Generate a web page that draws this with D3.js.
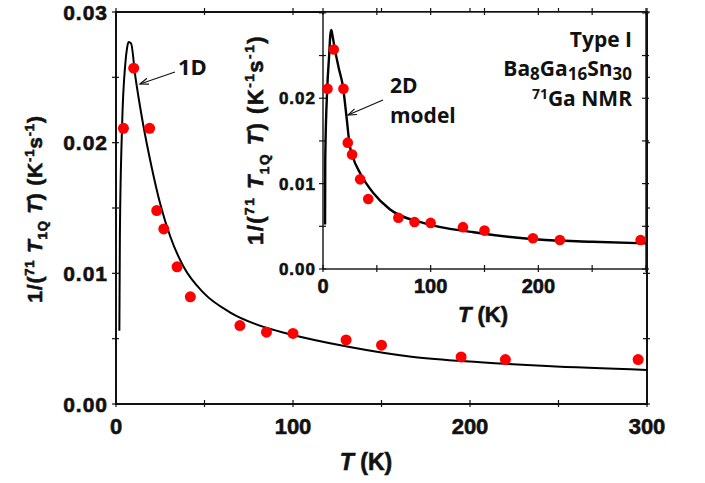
<!DOCTYPE html>
<html>
<head>
<meta charset="utf-8">
<script src="https://cdn.jsdelivr.net/npm/d3@7"></script>
<style>
  body { margin: 0; background: #fff; }
  svg { display: block; }
  .tick-label { font-family: "Liberation Sans", Arial, sans-serif; font-weight: bold; fill: #111; stroke: #111; stroke-width: 0.6px; }
  .note { font-family: "Open Sans", sans-serif; font-weight: bold; fill: #111; }
</style>
</head>
<body>
<svg id="chart" width="705" height="483"></svg>
<script>
// measured points, 71Ga NMR
const tempK = [4.2, 10, 19, 23, 27, 34.5, 42, 70, 85, 100, 130, 150, 195, 220, 295];
const rate = [0.0211, 0.0257, 0.0211, 0.0148, 0.0134, 0.0105, 0.0082, 0.0060, 0.0055, 0.0054, 0.0049, 0.0045, 0.0036, 0.0034, 0.0034];

// 1D model curve (main panel)
const t1D = [1.9, 2.2, 3.4, 5.3, 6.2, 7.1, 8.5, 10.9, 13.3, 15.6, 19.4, 25, 30.7, 38.2, 49.5, 64.6, 83.4, 96.6, 130.5, 168, 205.8, 243.5, 300];
const v1D = [0.0056, 0.0130, 0.0211, 0.0261, 0.0272, 0.0277, 0.0276, 0.0251, 0.0230, 0.0212, 0.0186, 0.0153, 0.0128, 0.0105, 0.0085, 0.0070, 0.0059, 0.0054, 0.0044, 0.0036, 0.0032, 0.0029, 0.0026];

// 2D model curve (inset)
const t2D = [1.9, 2.1, 4.0, 5.6, 6.8, 7.7, 9, 10.8, 14.5, 18.6, 21.6, 24.8, 28, 34.4, 46.7, 62, 93, 140, 200, 250, 300];
const v2D = [0.0052, 0.0130, 0.0213, 0.0248, 0.0274, 0.0280, 0.0272, 0.0259, 0.0236, 0.0213, 0.0181, 0.0145, 0.0130, 0.01125, 0.0089, 0.0070, 0.0054, 0.0043, 0.00345, 0.0032, 0.0030];

const xTicks = [0, 100, 200, 300];
const yTicks = [0, 0.01, 0.02, 0.03];
const insetXTicks = [0, 100, 200];
const insetYTicks = [0, 0.01, 0.02];

const svg = d3.select("#chart");

const x = d3.scaleLinear().domain([0, 300]).range([116, 647]);
const y = d3.scaleLinear().domain([0, 0.03]).range([404, 12]);

const xi = d3.scaleLinear().domain([0, 300]).range([323, 646]);
const yi = d3.scaleLinear().domain([0, 0.0301]).range([269, 12]);

const pts = tempK.map((t, i) => ({ t, v: rate[i] }));

function drawFrame(g, sx, sy, xMinor, yMinor, width) {
  const [x0, x1] = sx.range();
  const [y0, y1] = sy.range();
  g.append("rect")
    .attr("x", x0).attr("y", y1)
    .attr("width", x1 - x0).attr("height", y0 - y1)
    .attr("fill", "#fff")
    .attr("stroke", "#111")
    .attr("stroke-width", width);

  // ticks cross the frame on all four sides
  const xs = d3.range(0, 300.1, xMinor);
  const ys = d3.range(0, sy.domain()[1] + 1e-9, yMinor);
  xs.forEach((v) => {
    [y0, y1].forEach((yy) => {
      g.append("line")
        .attr("x1", sx(v)).attr("x2", sx(v))
        .attr("y1", yy - 4).attr("y2", yy + 3)
        .attr("stroke", "#111").attr("stroke-width", 1.2);
    });
  });
  ys.forEach((v) => {
    [x0, x1].forEach((xx) => {
      g.append("line")
        .attr("x1", xx - 4).attr("x2", xx + 3)
        .attr("y1", sy(v)).attr("y2", sy(v))
        .attr("stroke", "#111").attr("stroke-width", 1.2);
    });
  });
}

function drawCurve(g, sx, sy, ts, vs, w) {
  const line = d3.line()
    .x((d) => sx(d[0]))
    .y((d) => sy(d[1]))
    .curve(d3.curveMonotoneX);
  g.append("path")
    .attr("d", line(ts.map((t, i) => [t, vs[i]])))
    .attr("fill", "none")
    .attr("stroke", "#000")
    .attr("stroke-width", w);
}

function drawPoints(g, sx, sy, r) {
  g.selectAll("circle.pt")
    .data(pts)
    .join("circle")
    .attr("class", "pt")
    .attr("cx", (d) => sx(d.t))
    .attr("cy", (d) => sy(d.v))
    .attr("r", r)
    .attr("fill", "#ff0000");
}

function yLabel(g, cx, cy, size, spacing) {
  const t = g.append("text")
    .attr("class", "tick-label")
    .attr("transform", `translate(${cx},${cy}) rotate(-90)`)
    .attr("text-anchor", "middle")
    .style("font-size", size + "px")
    .style("letter-spacing", spacing + "px");
  const s = size * 0.62;
  t.append("tspan").text("1/(");
  t.append("tspan").attr("dy", -size * 0.4).style("font-size", s + "px").text("71");
  t.append("tspan").attr("dy", size * 0.4).text(" ");
  t.append("tspan").style("font-style", "italic").text("T");
  t.append("tspan").attr("dy", size * 0.25).style("font-size", s + "px").text("1Q");
  t.append("tspan").attr("dy", -size * 0.25).text(" ");
  t.append("tspan").style("font-style", "italic").text("T");
  t.append("tspan").text(") (K");
  t.append("tspan").attr("dy", -size * 0.4).style("font-size", s + "px").text("-1");
  t.append("tspan").attr("dy", size * 0.4).text("s");
  t.append("tspan").attr("dy", -size * 0.4).style("font-size", s + "px").text("-1");
  t.append("tspan").attr("dy", size * 0.4).text(")");
}

function xLabel(g, cx, cy, size) {
  const t = g.append("text")
    .attr("class", "tick-label")
    .attr("x", cx).attr("y", cy)
    .attr("text-anchor", "middle")
    .style("font-size", size + "px");
  t.append("tspan").style("font-style", "italic").text("T");
  t.append("tspan").text(" (K)");
}

function arrow(g, xa, ya, xb, yb) {
  g.append("line")
    .attr("x1", xa).attr("y1", ya).attr("x2", xb).attr("y2", yb)
    .attr("stroke", "#111").attr("stroke-width", 1.2);
  const ang = Math.atan2(ya - yb, xa - xb);
  const len = 9, spread = 0.35;
  const p = [
    [xb + len * Math.cos(ang - spread), yb + len * Math.sin(ang - spread)],
    [xb, yb],
    [xb + len * Math.cos(ang + spread), yb + len * Math.sin(ang + spread)]
  ];
  g.append("path")
    .attr("d", d3.line()(p))
    .attr("fill", "none")
    .attr("stroke", "#111")
    .attr("stroke-width", 1.2);
}

// ---- main panel
const main = svg.append("g");
drawFrame(main, x, y, 50, 0.005, 2);
drawCurve(main, x, y, t1D, v1D, 2);
drawPoints(main, x, y, 5.5);

main.selectAll("text.xt")
  .data(xTicks)
  .join("text")
  .attr("class", "tick-label xt")
  .attr("x", (d) => x(d))
  .attr("y", 434)
  .attr("text-anchor", "middle")
  .style("font-size", "22px")
  .text((d) => d);

main.selectAll("text.yt")
  .data(yTicks)
  .join("text")
  .attr("class", "tick-label yt")
  .attr("x", 108)
  .attr("y", (d) => y(d) + 7.5)
  .attr("text-anchor", "end")
  .style("font-size", "21px")
  .style("letter-spacing", "1px")
  .text((d) => d.toFixed(2));

yLabel(main, 42, 209, 21, 0.8);
xLabel(main, 366, 470, 23);

main.append("text").attr("class", "note")
  .attr("x", 178).attr("y", 75)
  .style("font-size", "22px").text("1D");
arrow(main, 175, 72, 140, 84);

// ---- inset
const inset = svg.append("g");
drawFrame(inset, xi, yi, 50, 0.005, 1.4);
drawCurve(inset, xi, yi, t2D, v2D, 2.4);
drawPoints(inset, xi, yi, 5.3);

inset.selectAll("text.xt")
  .data(insetXTicks)
  .join("text")
  .attr("class", "tick-label xt")
  .attr("x", (d) => xi(d))
  .attr("y", 293)
  .attr("text-anchor", "middle")
  .style("font-size", "20px")
  .text((d) => d);

inset.selectAll("text.yt")
  .data(insetYTicks)
  .join("text")
  .attr("class", "tick-label yt")
  .attr("x", 316)
  .attr("y", (d) => yi(d) + 6)
  .attr("text-anchor", "end")
  .style("font-size", "17px")
  .style("letter-spacing", "1px")
  .text((d) => d.toFixed(2));

yLabel(inset, 263, 140, 22, 1.5);
xLabel(inset, 483, 322, 22);

inset.append("text").attr("class", "note")
  .attr("x", 390).attr("y", 93)
  .style("font-size", "21px").text("2D");
inset.append("text").attr("class", "note")
  .attr("x", 390).attr("y", 123)
  .style("font-size", "21px").text("model");
arrow(inset, 383, 100, 348, 115);

// sample label
const lab = inset.append("g").attr("class", "note").style("font-size", "21px");
lab.append("text").attr("x", 632).attr("y", 47).attr("text-anchor", "end").text("Type I");
const f = lab.append("text").attr("x", 632).attr("y", 76).attr("text-anchor", "end");
f.append("tspan").text("Ba");
f.append("tspan").attr("dy", 4).style("font-size", "17px").text("8");
f.append("tspan").attr("dy", -4).text("Ga");
f.append("tspan").attr("dy", 4).style("font-size", "17px").text("16");
f.append("tspan").attr("dy", -4).text("Sn");
f.append("tspan").attr("dy", 4).style("font-size", "17px").text("30");
const n = lab.append("text").attr("x", 632).attr("y", 106).attr("text-anchor", "end");
n.append("tspan").attr("dy", -7).style("font-size", "14px").text("71");
n.append("tspan").attr("dy", 7).text("Ga NMR");
</script>
</body>
</html>
